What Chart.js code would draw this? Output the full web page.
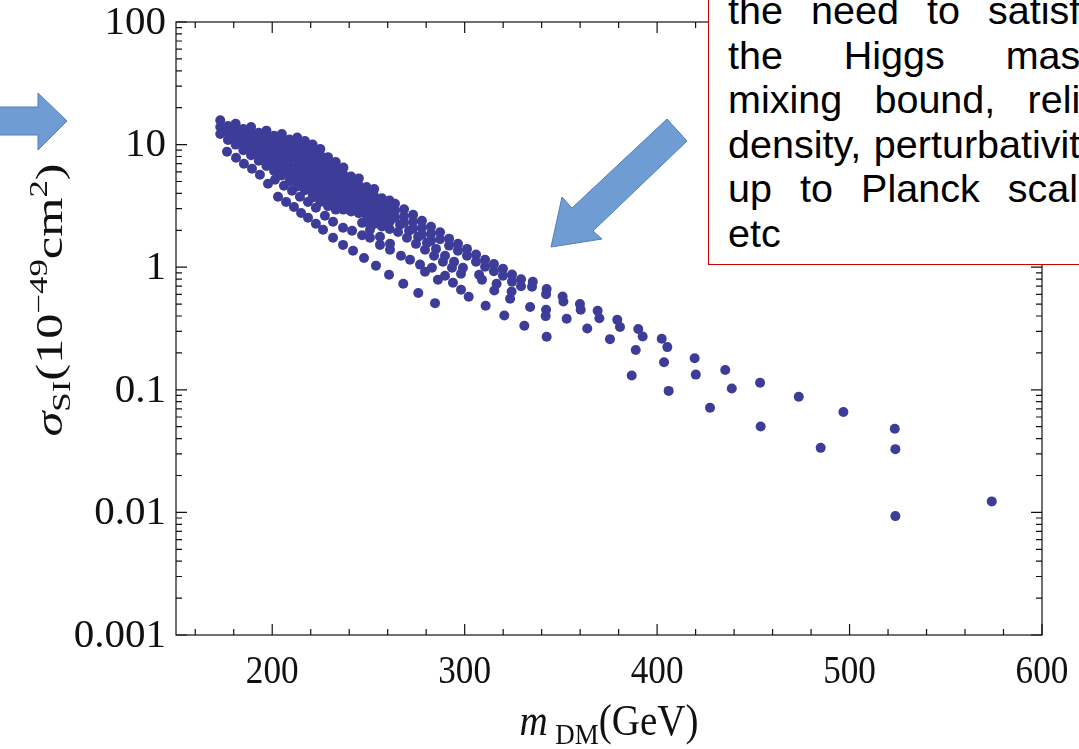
<!DOCTYPE html>
<html>
<head>
<meta charset="utf-8">
<title>sigma_SI vs m_DM</title>
<script src="https://cdn.jsdelivr.net/npm/chart.js@4.4.1/dist/chart.umd.min.js"></script>
<style>
    html, body { margin: 0; padding: 0; background: #fff; overflow: hidden; }
    #wrap { position: relative; width: 1079px; height: 749px; overflow: hidden; }
    #chart { display: block; }
    #note {
        position: absolute;
        left: 708px;
        top: -40px;
        width: 372px;
        padding: 27px 14px 8px 19px;
        border: 1px solid #d00000;
        background: #fff;
        font-family: "Liberation Sans", Arial, sans-serif;
        font-size: 39.5px;
        line-height: 44.6px;
        color: #000;
    }
    #note .ln { text-align: justify; text-align-last: justify; }
    #note .ln.last { text-align: left; text-align-last: left; }
</style>
</head>
<body>
<div id="wrap">
    <canvas id="chart" width="1079" height="749"></canvas>
    <div id="note">
        <div class="ln">the need to satisfy</div>
        <div class="ln">the Higgs mass</div>
        <div class="ln">mixing bound, relic</div>
        <div class="ln">density, perturbativity</div>
        <div class="ln">up to Planck scale</div>
        <div class="ln last">etc</div>
    </div>
</div>
<script>
// [m_DM (GeV), sigma_SI (1e-49 cm^2)]

// solid blob at low mass
const denseCore = [
    [173, 15.8], [173, 13.9], [173, 12.2],
    [177, 14.2], [177, 12.5], [177, 10.9],
    [181, 14.8], [181, 13.0], [181, 11.4], [181, 10.0],
    [185, 13.4], [185, 11.7], [185, 10.3], [185, 9.0],
    [189, 13.9], [189, 12.2], [189, 10.7], [189, 9.4], [189, 8.2],
    [193, 12.5], [193, 11.0], [193, 9.6], [193, 8.5], [193, 7.4],
    [197, 13.0], [197, 11.4], [197, 10.0], [197, 8.8], [197, 7.7], [197, 6.7],
    [201, 11.8], [201, 10.3], [201, 9.1], [201, 8.0], [201, 7.0], [201, 6.1],
    [205, 12.2], [205, 10.7], [205, 9.4], [205, 8.2], [205, 7.2], [205, 6.3], [205, 5.6],
    [209, 11.0], [209, 9.7], [209, 8.5], [209, 7.5], [209, 6.5], [209, 5.7], [209, 5.0],
    [213, 11.4], [213, 10.0], [213, 8.8], [213, 7.7], [213, 6.7], [213, 5.9], [213, 5.2], [213, 4.55],
    [217, 10.7], [217, 9.4], [217, 8.2], [217, 7.2], [217, 6.3], [217, 5.55], [217, 4.85], [217, 4.25],
    [221, 10.0], [221, 8.8], [221, 7.7], [221, 6.75], [221, 5.9], [221, 5.2], [221, 4.55], [221, 4.0], [221, 3.7],
    [225, 9.2], [225, 8.2], [225, 7.2], [225, 6.3], [225, 5.55], [225, 4.85], [225, 4.25], [225, 3.75], [225, 3.4],
    [229, 7.9], [229, 6.75], [229, 5.9], [229, 5.2], [229, 4.55], [229, 4.0], [229, 3.5], [229, 3.15],
    [233, 7.2], [233, 6.3], [233, 5.55], [233, 4.85], [233, 4.25], [233, 3.75], [233, 3.3], [233, 2.95],
    [237, 6.5], [237, 5.7], [237, 5.0], [237, 4.4], [237, 3.85], [237, 3.4], [237, 2.95],
    [241, 5.5], [241, 4.8], [241, 4.2], [241, 3.7], [241, 3.25], [241, 2.85],
    [245, 5.3], [245, 4.65], [245, 4.1], [245, 3.6], [245, 3.15], [245, 2.75],
    [249, 4.5], [249, 3.95], [249, 3.45], [249, 3.05], [249, 2.65], [249, 2.35],
    [253, 4.35], [253, 3.8], [253, 3.35], [253, 2.95], [253, 2.6], [253, 2.25],
    [257, 3.65], [257, 3.2], [257, 2.8], [257, 2.45], [257, 2.15],
    [261, 3.5], [261, 3.05], [261, 2.7], [261, 2.35], [261, 2.05]
];

// paired dots along the upper edge past the blob
const upperBand = [
    [263.8, 3.29], [263.8, 2.88], [268.5, 2.97], [268.5, 2.60], [273.2, 2.68], [273.2, 2.35],
    [277.8, 2.39], [277.8, 2.10], [282.5, 2.14], [282.5, 1.87], [287.2, 1.93], [287.2, 1.69],
    [291.9, 1.71], [291.9, 1.50], [296.5, 1.55], [296.5, 1.36], [301.2, 1.41], [301.2, 1.24],
    [305.9, 1.27], [305.9, 1.11], [310.6, 1.15], [310.6, 1.01], [315.2, 1.06], [315.2, 0.928],
    [319.9, 0.97], [319.9, 0.851], [324.6, 0.870], [324.6, 0.763], [329.3, 0.797], [329.3, 0.699],
    [335.4, 0.760], [335.0, 0.692]
];

const midBand = [
    [263.8, 2.53], [268.5, 2.30], [273.2, 2.06], [277.8, 1.84], [282.5, 1.64]
];

const secondBand = [
    [266.4, 2.22], [265.4, 1.94], [271.1, 1.98], [270.0, 1.74], [275.8, 1.77], [274.7, 1.55],
    [280.4, 1.58], [279.4, 1.39], [285.1, 1.41], [284.1, 1.24], [289.8, 1.24], [288.7, 1.107],
    [294.5, 1.107], [293.4, 0.989], [299.1, 0.989], [298.1, 0.883], [307.5, 0.867], [309.0, 0.789],
    [316.6, 0.732], [315.4, 0.6455], [324.4, 0.6334], [323.6, 0.5524], [334.0, 0.473]
];

// strand just under the blob
const strandTwo = [
    [201.4, 5.16], [206.1, 4.61], [210.3, 4.20], [214.4, 3.75], [218.6, 3.41], [222.7, 3.05],
    [227.4, 2.63], [231.6, 2.35], [236.8, 2.10], [241.5, 1.98], [246.7, 1.82], [250.8, 1.74],
    [256.0, 1.52], [261.2, 1.39], [266.9, 1.24], [271.6, 1.15], [276.8, 1.05], [279.4, 0.917],
    [283.0, 0.989], [286.1, 0.789], [289.8, 0.851], [293.9, 0.746], [298.1, 0.654], [302.1, 0.5735],
    [310.9, 0.4844], [320.6, 0.4037], [331.0, 0.3327], [342.6, 0.2705],
    [246.7, 2.30], [250.8, 2.02], [256.0, 1.77], [261.2, 1.55]
];

// lowest strand
const strandLow = [
    [176.5, 8.74], [181.2, 7.80], [185.3, 6.97], [189.5, 6.35], [193.6, 5.67], [197.8, 4.79],
    [203.0, 3.75], [207.2, 3.41], [211.3, 3.10], [215.0, 2.77], [218.6, 2.53], [222.7, 2.26],
    [226.4, 2.02], [231.6, 1.74], [236.8, 1.52], [242.0, 1.36], [247.7, 1.19], [253.9, 1.03],
    [260.7, 0.867], [268.1, 0.732], [275.9, 0.615], [284.6, 0.509]
];

// high-mass tail
const tailUpper = [
    [342.6, 0.663], [342.3, 0.603], [350.9, 0.577], [351.3, 0.525], [359.9, 0.500], [360.3, 0.449],
    [369.1, 0.441], [370.0, 0.384], [379.3, 0.372], [380.7, 0.325], [390.2, 0.313], [392.5, 0.272],
    [402.4, 0.261], [405.3, 0.223], [419.5, 0.181], [435.4, 0.145], [453.5, 0.114], [473.6, 0.0877],
    [496.8, 0.0658], [523.5, 0.0481]
];

const tailMiddle = [
    [342.3, 0.449], [342.1, 0.399], [353.0, 0.380], [363.7, 0.316], [375.5, 0.259],
    [388.9, 0.211], [403.6, 0.168], [420.1, 0.133], [438.8, 0.1025]
];

const tailLower = [
    [386.8, 0.131], [406.0, 0.098], [427.5, 0.0713], [453.8, 0.0502], [485.0, 0.0336],
    [523.8, 0.0328], [523.8, 0.00933], [573.9, 0.0123]
];

const xMajor = [200, 300, 400, 500, 600];
const xMajorLabels = ['200', '300', '400', '500', '600'];
const xMinor = [160, 180, 220, 240, 260, 280, 320, 340, 360, 380, 420, 440, 460, 480, 520, 540, 560, 580];
const yMajor = [0.001, 0.01, 0.1, 1, 10, 100];
const yMajorLabels = ['0.001', '0.01', '0.1', '1', '10', '100'];
const yMinorSteps = [2, 3, 4, 5, 6, 7, 8, 9];

const dotColor = '#3d3d99';
const serif = '"Liberation Serif", "Times New Roman", serif';

// text with sub/superscripts, centred on cx
function drawRich(ctx, parts, cx, baseY) {
    let total = 0;
    parts.forEach(p => {
        ctx.font = p.font;
        p.w = ctx.measureText(p.text).width + (p.dx || 0);
        total += p.w;
    });
    let x = cx - total / 2;
    ctx.textAlign = 'left';
    ctx.textBaseline = 'alphabetic';
    parts.forEach(p => {
        ctx.font = p.font;
        ctx.fillText(p.text, x + (p.dx || 0), baseY + (p.dy || 0));
        x += p.w;
    });
}

const axesFrame = {
    id: 'axesFrame',
    afterDraw(chart) {
        const { ctx, chartArea: a, scales: { x, y } } = chart;
        ctx.save();
        ctx.strokeStyle = '#111';
        ctx.lineWidth = 1.2;
        ctx.strokeRect(a.left, a.top, a.right - a.left, a.bottom - a.top);

        // ticks point inward on all four sides
        ctx.beginPath();
        const xTick = (v, len) => {
            const px = x.getPixelForValue(v);
            ctx.moveTo(px, a.bottom); ctx.lineTo(px, a.bottom - len);
            ctx.moveTo(px, a.top); ctx.lineTo(px, a.top + len);
        };
        const yTick = (v, len) => {
            const py = y.getPixelForValue(v);
            ctx.moveTo(a.left, py); ctx.lineTo(a.left + len, py);
            ctx.moveTo(a.right, py); ctx.lineTo(a.right - len, py);
        };
        xMajor.forEach(v => xTick(v, 11));
        xMinor.forEach(v => xTick(v, 6));
        yMajor.forEach(v => yTick(v, 11));
        yMajor.slice(0, -1).forEach(d => yMinorSteps.forEach(m => yTick(d * m, 6)));
        ctx.stroke();

        ctx.fillStyle = '#111';
        ctx.font = '41px ' + serif;
        ctx.textAlign = 'right';
        ctx.textBaseline = 'middle';
        yMajor.forEach((v, i) => ctx.fillText(yMajorLabels[i], a.left - 10, y.getPixelForValue(v) + 1));

        // bottom labels are a little narrow
        ctx.font = '40px ' + serif;
        ctx.textAlign = 'center';
        ctx.textBaseline = 'alphabetic';
        xMajor.forEach((v, i) => {
            ctx.save();
            ctx.translate(x.getPixelForValue(v), 683);
            ctx.scale(0.88, 1);
            ctx.fillText(xMajorLabels[i], 0, 0);
            ctx.restore();
        });

        // axis titles
        const big = '42px ' + serif, small = '29px ' + serif;
        ctx.save();
        ctx.translate((a.left + a.right) / 2, 735);
        ctx.scale(0.93, 1.05);
        drawRich(ctx, [
            { text: 'm', font: 'italic ' + big },
            { text: 'DM', font: small, dy: 9, dx: 8 },
            { text: '(GeV)', font: big }
        ], 0, 0);
        ctx.restore();

        ctx.translate(62, 300);
        ctx.rotate(-Math.PI / 2);
        ctx.scale(1.2, 0.88);
        drawRich(ctx, [
            { text: 'σ', font: 'italic ' + big },
            { text: 'SI', font: small, dy: 9 },
            { text: '(10', font: big },
            { text: '−49', font: small, dy: -17 },
            { text: 'cm', font: big },
            { text: '2', font: small, dy: -17 },
            { text: ')', font: big }
        ], 0, 0);
        ctx.restore();
    }
};

// block arrows pointing at the data
const callouts = {
    id: 'callouts',
    afterDraw(chart) {
        const ctx = chart.ctx;
        const shapes = [
            [[-2, 107], [38, 107], [38, 93], [67, 121], [38, 150], [38, 135], [-2, 135]],
            [[551, 247], [562, 197], [572, 208], [667, 119], [687, 141], [593, 231], [602, 239]]
        ];
        ctx.save();
        ctx.fillStyle = '#6f9cd2';
        ctx.strokeStyle = '#4f7fbd';
        ctx.lineWidth = 1;
        shapes.forEach(pts => {
            ctx.beginPath();
            pts.forEach(([px, py], i) => i ? ctx.lineTo(px, py) : ctx.moveTo(px, py));
            ctx.closePath();
            ctx.fill();
            ctx.stroke();
        });
        ctx.restore();
    }
};

const groups = [denseCore, upperBand, midBand, secondBand, strandTwo, strandLow, tailUpper, tailMiddle, tailLower];

new Chart(document.getElementById('chart'), {
    type: 'scatter',
    data: {
        datasets: groups.map(g => ({
            data: g.map(([m, s]) => ({ x: m, y: s })),
            backgroundColor: dotColor,
            borderWidth: 0,
            pointRadius: 5,
            pointHoverRadius: 5
        }))
    },
    options: {
        responsive: false,
        animation: false,
        devicePixelRatio: 1,
        events: [],
        layout: { padding: { left: 176, top: 22, right: 37, bottom: 114 } },
        plugins: { legend: { display: false }, tooltip: { enabled: false } },
        scales: {
            x: { type: 'linear', min: 150, max: 600, display: false },
            y: { type: 'logarithmic', min: 0.001, max: 100, display: false }
        }
    },
    plugins: [axesFrame, callouts]
});
</script>
</body>
</html>
